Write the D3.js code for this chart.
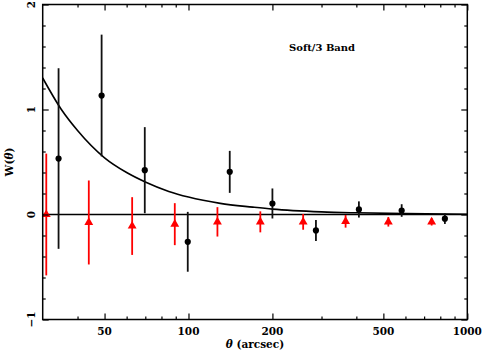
<!DOCTYPE html>
<html><head><meta charset="utf-8">
<script src="https://cdn.jsdelivr.net/npm/d3@7"></script>
<style>body{margin:0;background:#fff}svg{display:block}text{font-family:"DejaVu Serif",serif;font-weight:bold;fill:#000}</style>
</head><body>
<svg id="c" width="483" height="354"></svg>
<script>
const blackTheta = [34.2, 48.8, 69.7, 99.4, 140.6, 200, 286.5, 408.5, 581.6, 831];
const blackW     = [0.533, 1.133, 0.422, -0.26, 0.406, 0.105, -0.152, 0.048, 0.038, -0.04];
const blackErr   = [0.86, 0.58, 0.41, 0.285, 0.2, 0.143, 0.1, 0.077, 0.06, 0.05];
const redTheta = [30.9, 43.9, 62.8, 89.3, 127, 181, 257.8, 366, 521, 745];
const redW     = [0.0, -0.076, -0.11, -0.092, -0.07, -0.07, -0.07, -0.065, -0.07, -0.07];
const redErr   = [0.58, 0.4, 0.275, 0.2, 0.14, 0.1, 0.075, 0.06, 0.045, 0.035];
const modelTheta = [30, 35, 40, 50, 60, 70, 85, 100, 130, 170, 200, 300, 400, 600, 1000];
const modelW     = [1.30, 1.00, 0.80, 0.54, 0.40, 0.31, 0.22, 0.166, 0.106, 0.07, 0.051, 0.025, 0.016, 0.008, 0.003];
const xMajor = [50, 100, 200, 500, 1000];
const xMinor = [40, 60, 70, 80, 90, 300, 400, 600, 700, 800, 900];
const yMajor = [-1, 0, 1, 2];
const yMinor = [-0.8, -0.6, -0.4, -0.2, 0.2, 0.4, 0.6, 0.8, 1.2, 1.4, 1.6, 1.8];
const yLabels = ["\u22121", "0", "1", "2"];

const L = 42.7, R = 467.3, T = 4.5, B = 319.5;
const x = d3.scaleLog().domain([30, 1000]).range([L, R]);
const y = d3.scaleLinear().domain([-1, 2]).range([B, T]);
const svg = d3.select("#c");

// zero line
svg.append("line").attr("x1", L).attr("x2", R).attr("y1", y(0)).attr("y2", y(0))
  .attr("stroke", "#000").attr("stroke-width", 1.5);

// model curve
const modelPts = modelTheta.map((t, i) => [x(t), y(modelW[i])]);
svg.append("path").attr("d", d3.line().curve(d3.curveMonotoneX)(modelPts))
  .attr("fill", "none").attr("stroke", "#000").attr("stroke-width", 1.6);

// red series
const g = svg.append("g");
redTheta.forEach((t, i) => {
  g.append("line").attr("x1", x(t)).attr("x2", x(t))
    .attr("y1", y(redW[i] + redErr[i])).attr("y2", y(redW[i] - redErr[i]))
    .attr("stroke", "#ff0000").attr("stroke-width", 1.8);
});
const tri = d3.symbol().type(d3.symbolTriangle).size(34);
redTheta.forEach((t, i) => {
  g.append("path").attr("d", tri()).attr("transform", `translate(${x(t)},${y(redW[i])})`)
    .attr("fill", "#ff0000");
});
// black series
blackTheta.forEach((t, i) => {
  g.append("line").attr("x1", x(t)).attr("x2", x(t))
    .attr("y1", y(blackW[i] + blackErr[i])).attr("y2", y(blackW[i] - blackErr[i]))
    .attr("stroke", "#111").attr("stroke-width", 1.8);
  g.append("circle").attr("cx", x(t)).attr("cy", y(blackW[i])).attr("r", 3.1).attr("fill", "#000");
});

// frame
svg.append("rect").attr("x", L).attr("y", T).attr("width", R - L).attr("height", B - T)
  .attr("fill", "none").attr("stroke", "#000").attr("stroke-width", 1.5);

// ticks (inward) via d3 axes
function tickAxis(axisFn, scale, vals, len, transform) {
  const a = axisFn(scale).tickValues(vals).tickSize(len).tickFormat("");
  const gg = svg.append("g").attr("transform", transform).call(a);
  gg.select(".domain").remove();
  gg.selectAll("line").attr("stroke", "#000").attr("stroke-width", 1.2);
}
tickAxis(d3.axisTop, x, xMajor, 6, `translate(0,${B})`);
tickAxis(d3.axisTop, x, xMinor, 3, `translate(0,${B})`);
tickAxis(d3.axisBottom, x, xMajor, 6, `translate(0,${T})`);
tickAxis(d3.axisBottom, x, xMinor, 3, `translate(0,${T})`);
tickAxis(d3.axisRight, y, yMajor, 6, `translate(${L},0)`);
tickAxis(d3.axisRight, y, yMinor, 3, `translate(${L},0)`);
tickAxis(d3.axisLeft, y, yMajor, 6, `translate(${R},0)`);
tickAxis(d3.axisLeft, y, yMinor, 3, `translate(${R},0)`);

// x tick labels
svg.append("g").selectAll("text").data(xMajor).join("text")
  .attr("x", d => x(d)).attr("y", 334.5).attr("text-anchor", "middle")
  .attr("font-size", 10.5).text(d => d);
// y tick labels (rotated)
svg.append("g").selectAll("text").data(yMajor).join("text")
  .attr("transform", d => `translate(35,${y(d)}) rotate(-90)`)
  .attr("text-anchor", "middle").attr("font-size", 10.5).text((d, i) => yLabels[i]);

// axis titles
const xl = svg.append("text").attr("x", 255).attr("y", 348).attr("text-anchor", "middle").attr("font-size", 10.5);
xl.append("tspan").attr("font-style", "italic").text("\u03b8");
xl.append("tspan").text(" (arcsec)");
const yl = svg.append("text").attr("transform", "translate(13,162) rotate(-90)").attr("text-anchor", "middle").attr("font-size", 10.5);
yl.append("tspan").text("W(");
yl.append("tspan").attr("font-style", "italic").text("\u03b8");
yl.append("tspan").text(")");

svg.append("text").attr("x", 289).attr("y", 50.5).attr("font-size", 10).text("Soft/3 Band");
</script>
</body></html>
